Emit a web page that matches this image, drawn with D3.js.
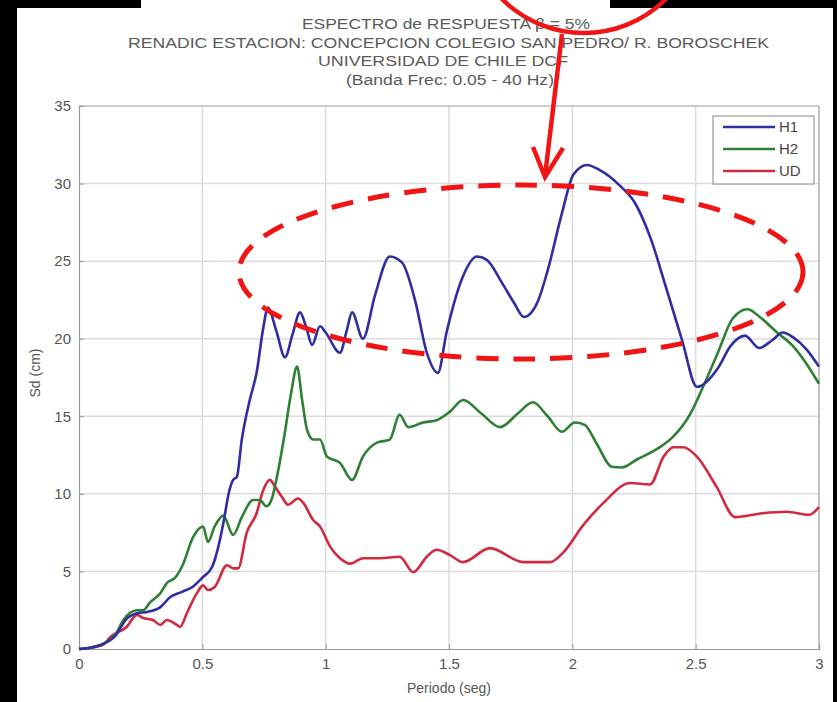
<!DOCTYPE html>
<html><head><meta charset="utf-8">
<script src="https://cdn.jsdelivr.net/npm/d3@7"></script>
<style>
html,body{margin:0;padding:0;background:#000;}
svg{display:block;font-family:"Liberation Sans",Arial,sans-serif;}
</style></head>
<body><svg id="c" width="837" height="702"></svg>
<script>
const titleLines = ["ESPECTRO de RESPUESTA β = 5%","RENADIC ESTACION: CONCEPCION COLEGIO SAN PEDRO/ R. BOROSCHEK","UNIVERSIDAD DE CHILE DCF","(Banda Frec: 0.05 - 40 Hz)"];
const xTicks = [0,0.5,1,1.5,2,2.5,3];
const yTicks = [0,5,10,15,20,25,30,35];
const seriesNames = ["H1","H2","UD"];

const periodH1 = [0,0.05,0.1,0.15,0.19,0.235,0.28,0.33,0.37,0.42,0.46,0.50,0.54,0.565,0.585,0.61,0.625,0.64,0.66,0.693,0.72,0.746,0.766,0.80,0.835,0.866,0.896,0.92,0.945,0.977,1.0,1.058,1.085,1.107,1.151,1.2,1.26,1.31,1.362,1.41,1.455,1.49,1.556,1.613,1.652,1.715,1.764,1.804,1.86,1.90,1.958,2.005,2.06,2.108,2.197,2.254,2.319,2.38,2.445,2.505,2.59,2.64,2.70,2.757,2.81,2.854,2.894,2.95,3.0];
const sdH1 = [0,0.1,0.35,0.9,1.9,2.3,2.4,2.7,3.35,3.7,4.0,4.6,5.3,6.6,8.1,10.25,10.9,11.1,13.5,16.1,17.8,20.6,22.0,20.5,18.8,20.3,21.7,20.8,19.6,20.8,20.4,19.1,20.5,21.7,20.0,22.8,25.3,24.9,22.5,19.1,17.8,20.4,24.0,25.3,25.1,23.6,22.3,21.4,22.4,24.4,28.1,30.6,31.2,30.9,29.8,28.75,26.4,23.3,19.9,16.9,18.1,19.5,20.2,19.4,19.9,20.4,20.1,19.3,18.2];

const periodH2 = [0,0.05,0.1,0.15,0.18,0.235,0.26,0.288,0.33,0.356,0.39,0.42,0.462,0.503,0.523,0.55,0.585,0.625,0.66,0.706,0.733,0.76,0.78,0.80,0.83,0.86,0.884,0.905,0.925,0.95,0.977,1.005,1.058,1.107,1.151,1.208,1.26,1.30,1.335,1.395,1.45,1.504,1.557,1.63,1.707,1.78,1.84,1.90,1.958,2.01,2.05,2.10,2.16,2.20,2.26,2.35,2.41,2.48,2.53,2.59,2.65,2.71,2.76,2.83,2.89,2.94,3.0];
const sdH2 = [0,0.1,0.35,1.0,1.87,2.5,2.5,3.0,3.6,4.25,4.6,5.4,7.2,7.9,6.9,7.9,8.6,7.35,8.5,9.6,9.6,9.2,9.6,10.9,13.5,16.5,18.2,16.0,14.1,13.5,13.5,12.4,12.0,10.9,12.4,13.3,13.5,15.1,14.3,14.6,14.75,15.3,16.05,15.2,14.3,15.2,15.9,15.0,14.0,14.6,14.45,13.2,11.75,11.7,12.2,12.96,13.7,15.2,16.9,19.1,21.3,21.9,21.4,20.4,19.6,18.6,17.1];

const periodUD = [0,0.05,0.1,0.126,0.193,0.235,0.26,0.30,0.33,0.356,0.397,0.41,0.437,0.478,0.503,0.523,0.55,0.60,0.625,0.645,0.68,0.72,0.746,0.774,0.795,0.823,0.847,0.888,0.91,0.95,0.977,1.018,1.058,1.10,1.151,1.22,1.30,1.355,1.41,1.45,1.504,1.557,1.666,1.80,1.91,1.962,2.045,2.125,2.235,2.315,2.37,2.41,2.45,2.505,2.585,2.66,2.77,2.87,2.96,3.0];
const sdUD = [0,0.08,0.3,0.77,1.42,2.2,2.0,1.87,1.55,1.87,1.55,1.42,2.3,3.6,4.1,3.8,4.0,5.4,5.2,5.2,7.5,8.75,10.2,10.9,10.45,9.8,9.3,9.7,9.4,8.3,7.9,6.6,5.85,5.5,5.85,5.85,5.95,4.95,5.95,6.4,6.05,5.6,6.5,5.6,5.6,6.2,8.0,9.4,10.7,10.6,12.4,13.0,13.0,12.4,10.45,8.5,8.75,8.85,8.65,9.15];

const colors = {H1:"#2d2ea0", H2:"#2f8035", UD:"#d12a40"};
const series = [
  {name:"H1", x:periodH1, y:sdH1},
  {name:"H2", x:periodH2, y:sdH2},
  {name:"UD", x:periodUD, y:sdUD}
];

const svg = d3.select("#c");
svg.append("rect").attr("width",837).attr("height",702).attr("fill","#000");
svg.append("rect").attr("x",17).attr("y",8).attr("width",816).attr("height",694).attr("fill","#fff");
svg.append("rect").attr("x",141).attr("y",0).attr("width",469).attr("height",9).attr("fill","#fff");

const L=79,R=819,T=106,B=649;
const x = d3.scaleLinear().domain([0,3]).range([L,R]);
const y = d3.scaleLinear().domain([0,35]).range([B,T]);

const g = svg.append("g");
g.selectAll(".gx").data(xTicks.slice(1,-1)).join("line")
  .attr("x1",d=>x(d)).attr("x2",d=>x(d)).attr("y1",T).attr("y2",B)
  .attr("stroke","#dcdcdc").attr("stroke-width",1.5);
g.selectAll(".gy").data(yTicks.slice(1,-1)).join("line")
  .attr("x1",L).attr("x2",R).attr("y1",d=>y(d)).attr("y2",d=>y(d))
  .attr("stroke","#dcdcdc").attr("stroke-width",1.5);

const xAxis = svg.append("g").attr("transform",`translate(0,${B})`)
  .call(d3.axisBottom(x).tickValues(xTicks).tickFormat(d=>String(d)).tickSize(-5).tickPadding(9));
const yAxis = svg.append("g").attr("transform",`translate(${L},0)`)
  .call(d3.axisLeft(y).tickValues(yTicks).tickFormat(d=>String(d)).tickSize(-5).tickPadding(8));
[xAxis,yAxis].forEach(a=>{
  a.select(".domain").attr("stroke","#999").attr("stroke-width",1.2);
  a.selectAll(".tick line").attr("stroke","#999");
  a.selectAll(".tick text").attr("fill","#555").attr("font-size",15).attr("font-family","Liberation Sans, Arial, sans-serif");
});
svg.append("line").attr("x1",L).attr("x2",R).attr("y1",T).attr("y2",T).attr("stroke","#999").attr("stroke-width",1.2);
svg.append("line").attr("x1",R).attr("x2",R).attr("y1",T).attr("y2",B).attr("stroke","#999").attr("stroke-width",1.2);

const line = d3.line().x(d=>x(d[0])).y(d=>y(d[1])).curve(d3.curveMonotoneX);
["UD","H2","H1"].forEach(n=>{
  const s = series.find(q=>q.name===n);
  const pts = s.x.map((v,i)=>[v,s.y[i]]);
  svg.append("path").attr("d",line(pts)).attr("fill","none")
    .attr("stroke",colors[n]).attr("stroke-width",2.6).attr("stroke-linejoin","round");
});

const tl = [{cy:29,x0:302,w:288},{cy:48,x0:128,w:641},{cy:66,x0:318,w:250},{cy:85,x0:346,w:208}];
titleLines.forEach((t,i)=>{
  svg.append("text").attr("x",tl[i].x0).attr("y",tl[i].cy)
    .attr("textLength",tl[i].w).attr("lengthAdjust","spacingAndGlyphs")
    .attr("font-size",14).attr("fill","#5a5a5a").text(t);
});

svg.append("text").attr("x",(L+R)/2).attr("y",693).attr("text-anchor","middle")
  .attr("font-size",14).attr("fill","#555").text("Periodo (seg)");
svg.append("text").attr("transform","translate(40,373) rotate(-90)").attr("text-anchor","middle")
  .attr("font-size",14).attr("fill","#555").text("Sd (cm)");

const lg = svg.append("g");
lg.append("rect").attr("x",713).attr("y",116).attr("width",101).attr("height",68)
  .attr("fill","#fff").attr("stroke","#999").attr("stroke-width",1.2);
seriesNames.forEach((n,i)=>{
  const yy = 127 + i*22;
  lg.append("line").attr("x1",723).attr("x2",775).attr("y1",yy).attr("y2",yy)
    .attr("stroke",colors[n]).attr("stroke-width",2.6);
  lg.append("text").attr("x",779).attr("y",yy+5).attr("font-size",15).attr("fill","#444").text(n);
});

const red = "#f01414";
svg.append("ellipse").attr("cx",521).attr("cy",272).attr("rx",282).attr("ry",87)
  .attr("fill","none").attr("stroke",red).attr("stroke-width",5).attr("stroke-dasharray","22 15");
svg.append("circle").attr("cx",584).attr("cy",-83).attr("r",116)
  .attr("fill","none").attr("stroke",red).attr("stroke-width",4.5);
svg.append("line").attr("x1",562).attr("y1",34).attr("x2",545).attr("y2",176)
  .attr("stroke",red).attr("stroke-width",4.5);
svg.append("path").attr("d","M533,147 L545,177 L563,148").attr("fill","none")
  .attr("stroke",red).attr("stroke-width",4.5).attr("stroke-linejoin","miter");
</script></body></html>
